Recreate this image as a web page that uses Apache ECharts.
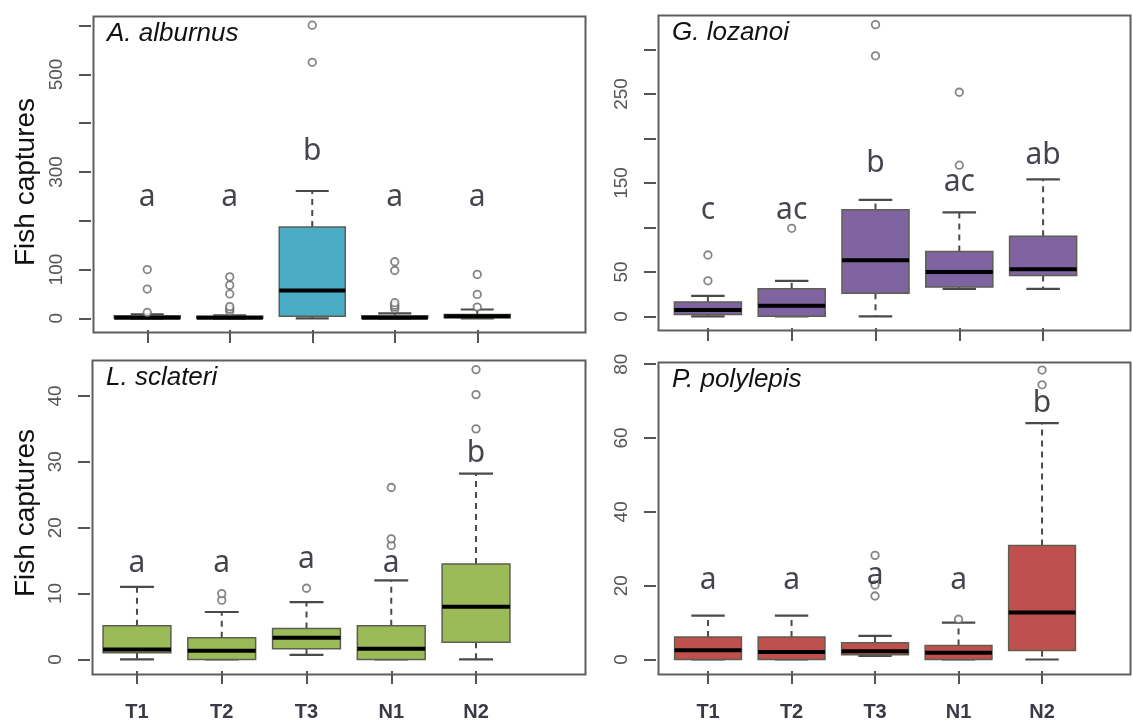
<!DOCTYPE html>
<html>
<head>
<meta charset="utf-8">
<script src="https://cdn.jsdelivr.net/npm/echarts@6/dist/echarts.min.js"></script>
<style>
  html, body { margin: 0; padding: 0; background: #fff; }
  #chart { width: 1132px; height: 722px; }
</style>
</head>
<body>
<div id="chart"></div>
<script>
// treatment groups on the x axis
const groups = ['T1', 'T2', 'T3', 'N1', 'N2'];
const speciesNames = ['A. alburnus', 'G. lozanoi', 'L. sclateri', 'P. polylepis'];

// box stats per group: [lower whisker, Q1, median, Q3, upper whisker]
const alburnusBox = [[0, 0, 1, 5, 8], [0, 0, 1, 4, 6], [0, 4, 57, 187, 261], [0, 0, 1, 5, 10], [0, 1, 4, 8, 18]];
const alburnusOut = [[12, 60, 100], [15, 19, 24, 50, 68, 85], [525, 601], [19, 23, 27, 32, 98, 116], [23, 49, 90]];
const alburnusLetters = ['a', 'a', 'b', 'a', 'a'];
const alburnusLetterY = [248, 248, 342, 248, 248];

const lozanoiBox = [[0, 2, 7, 16, 23], [0, 0, 12, 31, 40], [0, 26, 63, 120, 131], [31, 33, 50, 73, 117], [31, 46, 53, 90, 154]];
const lozanoiOut = [[40, 69], [99], [293, 328], [170, 252], []];
const lozanoiLetters = ['c', 'ac', 'b', 'ac', 'ab'];
const lozanoiLetterY = [119, 119, 172, 151, 181];

const sclateriBox = [[0, 1, 1.5, 5.1, 11], [0, 0, 1.3, 3.3, 7.2], [0.7, 1.6, 3.3, 4.7, 8.7], [0, 0, 1.6, 5.1, 12], [0, 2.6, 8, 14.5, 28.2]];
const sclateriOut = [[], [9, 10], [10.8], [17.3, 18.3, 26.1], [35, 40.2, 44]];
const sclateriLetters = ['a', 'a', 'a', 'a', 'b'];
const sclateriLetterY = [14.5, 14.5, 15.2, 14.5, 31.3];

const polylepisBox = [[0, 0, 2.5, 6.1, 11.9], [0, 0, 2, 6.1, 11.9], [1, 1.3, 2.2, 4.5, 6.4], [0, 0, 1.8, 3.8, 10], [0, 2.4, 12.7, 30.9, 64]];
const polylepisOut = [[], [], [17.2, 20.2, 28.2], [10.9], [74.4, 78.4]];
const polylepisLetters = ['a', 'a', 'a', 'a', 'b'];
const polylepisLetterY = [21.5, 21.5, 22.8, 21.5, 69.4];

// y tick marks and which of them carry a label
const alburnusTicks = [0, 100, 200, 300, 400, 500, 600];
const alburnusTickLabels = [0, 100, 300, 500];
const lozanoiTicks = [0, 50, 100, 150, 200, 250, 300];
const lozanoiTickLabels = [0, 50, 150, 250];
const sclateriTicks = [0, 10, 20, 30, 40];
const polylepisTicks = [0, 20, 40, 60, 80];

const yTitle = 'Fish captures';

const panels = [
  { box: alburnusBox, out: alburnusOut, letters: alburnusLetters, letterY: alburnusLetterY,
    ticks: alburnusTicks, tickLabels: alburnusTickLabels, min: -24, max: 624,
    fill: '#4bacc6', frame: [91, 14, 583, 330], cat: [106, 518.5], yTitleY: 182, xLabels: false },
  { box: lozanoiBox, out: lozanoiOut, letters: lozanoiLetters, letterY: lozanoiLetterY,
    ticks: lozanoiTicks, tickLabels: lozanoiTickLabels, min: -13.1, max: 341.1,
    fill: '#8064a2', frame: [656, 13, 1128, 328], cat: [666, 1085], yTitleY: null, xLabels: false },
  { box: sclateriBox, out: sclateriOut, letters: sclateriLetters, letterY: sclateriLetterY,
    ticks: sclateriTicks, tickLabels: sclateriTicks, min: -1.76, max: 45.76,
    fill: '#9bbb59', frame: [90, 358, 583, 672], cat: [94.6, 518.4], yTitleY: 513, xLabels: true },
  { box: polylepisBox, out: polylepisOut, letters: polylepisLetters, letterY: polylepisLetterY,
    ticks: polylepisTicks, tickLabels: polylepisTicks, min: -3.12, max: 81.12,
    fill: '#c0504d', frame: [656, 360, 1128, 672], cat: [666.3, 1083.8], yTitleY: null, xLabels: true }
];

function boxRenderer(fill) {
  return function (params, api) {
    const i = api.value(0);
    const lo = api.coord([i, api.value(1)]);
    const q1 = api.coord([i, api.value(2)]);
    const md = api.coord([i, api.value(3)]);
    const q3 = api.coord([i, api.value(4)]);
    const hi = api.coord([i, api.value(5)]);
    const bw = api.size([1, 0])[0] * 0.8;
    const cx = lo[0];
    const dashed = { stroke: '#4a4a4a', lineWidth: 2, lineDash: [6, 5] };
    const solid = { stroke: '#4a4a4a', lineWidth: 2.2 };
    return {
      type: 'group',
      children: [
        { type: 'line', shape: { x1: cx, y1: q3[1], x2: cx, y2: hi[1] }, style: dashed },
        { type: 'line', shape: { x1: cx, y1: q1[1], x2: cx, y2: lo[1] }, style: dashed },
        { type: 'line', shape: { x1: cx - bw / 4, y1: hi[1], x2: cx + bw / 4, y2: hi[1] }, style: solid },
        { type: 'line', shape: { x1: cx - bw / 4, y1: lo[1], x2: cx + bw / 4, y2: lo[1] }, style: solid },
        { type: 'rect', shape: { x: cx - bw / 2, y: q3[1], width: bw, height: q1[1] - q3[1] },
          style: { fill: fill, stroke: '#5c5f50', lineWidth: 1.5 } },
        { type: 'line', shape: { x1: cx - bw / 2, y1: md[1], x2: cx + bw / 2, y2: md[1] },
          style: { stroke: '#000', lineWidth: 4 } }
      ]
    };
  };
}

const grid = [], xAxis = [], yAxis = [], series = [], title = [], graphic = [];

panels.forEach(function (p, k) {
  const [fl, ft, fr, fb] = p.frame;
  grid.push({ left: p.cat[0], width: p.cat[1] - p.cat[0], top: ft, height: fb - ft });
  xAxis.push({
    type: 'category', gridIndex: k, data: groups,
    axisLine: { show: false, onZero: false },
    axisTick: { show: true, alignWithLabel: true, length: 13, lineStyle: { color: '#555', width: 2 } },
    axisLabel: { show: p.xLabels, margin: 31, fontSize: 20, fontWeight: 'bold',
      fontFamily: 'Liberation Sans', color: '#3a3a46' }
  });
  yAxis.push({
    type: 'value', gridIndex: k, min: p.min, max: p.max, offset: p.cat[0] - fl,
    splitLine: { show: false },
    axisLine: { show: false },
    axisTick: { show: true, length: 12, customValues: p.ticks, lineStyle: { color: '#555', width: 2 } },
    axisLabel: { rotate: 90, margin: 25, fontSize: 19, fontFamily: 'Liberation Sans',
      color: '#555', customValues: p.tickLabels }
  });
  series.push({
    type: 'custom', xAxisIndex: k, yAxisIndex: k,
    renderItem: boxRenderer(p.fill),
    encode: { x: 0, y: [1, 2, 3, 4, 5] },
    data: p.box.map(function (b, i) { return [i].concat(b); })
  });
  const outPts = [];
  p.out.forEach(function (vals, i) { vals.forEach(function (v) { outPts.push([i, v]); }); });
  series.push({
    type: 'scatter', xAxisIndex: k, yAxisIndex: k, symbol: 'circle', symbolSize: 7.5,
    itemStyle: { color: '#fff', borderColor: '#666', borderWidth: 1.8 },
    data: outPts
  });
  series.push({
    type: 'scatter', xAxisIndex: k, yAxisIndex: k, symbolSize: 1, z: 5,
    itemStyle: { color: 'transparent' },
    label: { show: true, position: 'inside', formatter: '{b}', fontSize: 30,
      fontFamily: 'Noto Sans', color: '#15151f' },
    data: p.letters.map(function (t, i) { return { name: t, value: [i, p.letterY[i]] }; })
  });
  title.push({
    text: speciesNames[k], left: fl + 16, top: ft + 7, padding: 0,
    textStyle: { fontSize: 26, fontStyle: 'italic', fontWeight: 'normal',
      fontFamily: 'Liberation Sans', color: '#111' }
  });
  graphic.push({
    type: 'rect', left: fl, top: ft, silent: true, z: 3,
    shape: { width: fr - fl, height: fb - ft },
    style: { fill: 'none', stroke: '#5e5e5e', lineWidth: 2 }
  });
  if (p.yTitleY !== null) {
    graphic.push({
      type: 'text', x: 26, y: p.yTitleY, rotation: Math.PI / 2, silent: true,
      style: { text: yTitle, fontSize: 28, fontFamily: 'Liberation Sans', fill: '#111',
        align: 'center', verticalAlign: 'middle' }
    });
  }
});

const chart = echarts.init(document.getElementById('chart'));
chart.setOption({
  animation: false,
  backgroundColor: '#fff',
  title: title,
  grid: grid,
  xAxis: xAxis,
  yAxis: yAxis,
  series: series,
  graphic: graphic
});
</script>
</body>
</html>
